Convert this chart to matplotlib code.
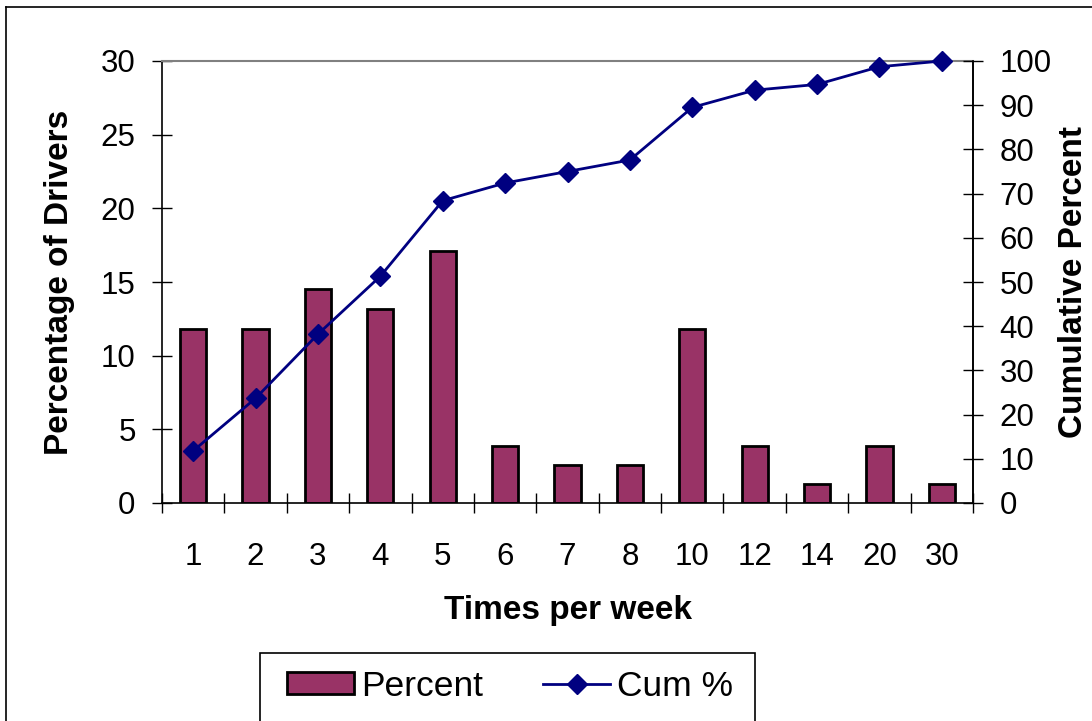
import numpy as np
import matplotlib
matplotlib.use("Agg")
import matplotlib.pyplot as plt
from matplotlib.patches import Rectangle
from matplotlib.lines import Line2D

plt.rcParams['font.family'] = ['Liberation Sans', 'DejaVu Sans']

# data (76 drivers)
times = ['1', '2', '3', '4', '5', '6', '7', '8', '10', '12', '14', '20', '30']
percent = [11.8, 11.8, 14.5, 13.2, 17.1, 3.9, 2.6, 2.6, 11.8, 3.9, 1.3, 3.9, 1.3]
cum_pct = [11.8, 23.7, 38.2, 51.3, 68.4, 72.4, 75.0, 77.6, 89.5, 93.4, 94.7, 98.7, 100.0]

bar_color = '#993366'
line_color = '#000080'

fig = plt.figure(figsize=(10.92, 7.21), dpi=100)
W, H = 1092, 721

# outer chart frame (cut at right and bottom like the original)
fig.add_artist(Line2D([6 / W, 1.0], [1 - 7 / H, 1 - 7 / H], transform=fig.transFigure,
                      color='black', lw=1.2))
fig.add_artist(Line2D([6 / W, 6 / W], [0.0, 1 - 7 / H], transform=fig.transFigure,
                      color='black', lw=1.2))

ax = fig.add_axes([162 / W, 1 - 503 / H, (973 - 162) / W, (503 - 61) / H])
x = np.arange(len(times))
ax.bar(x, percent, width=0.42, color=bar_color, edgecolor='black', linewidth=2, zorder=2)

ax.set_xlim(-0.5, len(times) - 0.5)
ax.set_ylim(0, 30)
ax.set_yticks(np.arange(0, 31, 5))
ax.set_xticks(x)
ax.set_xticklabels(times)
ax.set_xticks(np.arange(-0.5, len(times), 1), minor=True)
ax.tick_params(axis='x', which='major', length=0, pad=28, labelsize=22.5)
ax.tick_params(axis='x', which='minor', direction='inout', length=14, width=1)
ax.tick_params(axis='y', direction='inout', length=14, width=1, pad=12, labelsize=22.5)

ax.spines['top'].set_color('#808080')
ax.spines['top'].set_linewidth(1.5)
for s in ['left', 'bottom', 'right']:
    ax.spines[s].set_linewidth(1.2)

ax.set_ylabel('Percentage of Drivers', fontsize=24, fontweight='bold', va='center')
ax.yaxis.set_label_coords((60 - 162) / 811, 0.5)
ax.set_xlabel('Times per week', fontsize=24, fontweight='bold', va='center')
ax.xaxis.set_label_coords(0.5, (503 - 611) / 442)

ax2 = ax.twinx()
ax2.plot(x, cum_pct, color=line_color, lw=2, marker='D', markersize=10,
         markerfacecolor=line_color, markeredgecolor=line_color, clip_on=False, zorder=3)
ax2.set_ylim(0, 100)
ax2.set_yticks(np.arange(0, 101, 10))
ax2.tick_params(axis='y', direction='inout', length=14, width=1, pad=12, labelsize=22.5)
for s in ['left', 'bottom', 'top']:
    ax2.spines[s].set_visible(False)
ax2.spines['right'].set_linewidth(1.2)
ax2.set_ylabel('Cumulative Percent', fontsize=24, fontweight='bold', rotation=90, va='center')
ax2.yaxis.set_label_coords((1073 - 162) / 811, 0.5)

# legend box, bottom edge runs off the image
fig.add_artist(Rectangle((260 / W, -0.05), (755 - 260) / W, (1 - 653 / H) + 0.05,
                         transform=fig.transFigure, fill=False, edgecolor='black', lw=1.2))
handles = [Rectangle((0, 0), 1, 1, facecolor=bar_color, edgecolor='black', lw=2),
           Line2D([], [], color=line_color, lw=2, marker='D', markersize=10)]
fig.legend(handles, ['Percent', 'Cum %'], ncol=2, frameon=False, fontsize=25.5,
           loc='center', bbox_to_anchor=(510 / W, 1 - 686 / H),
           handlelength=1.9, handleheight=0.55, handletextpad=0.2, columnspacing=1.7)

fig.savefig('out.png', dpi=100)
